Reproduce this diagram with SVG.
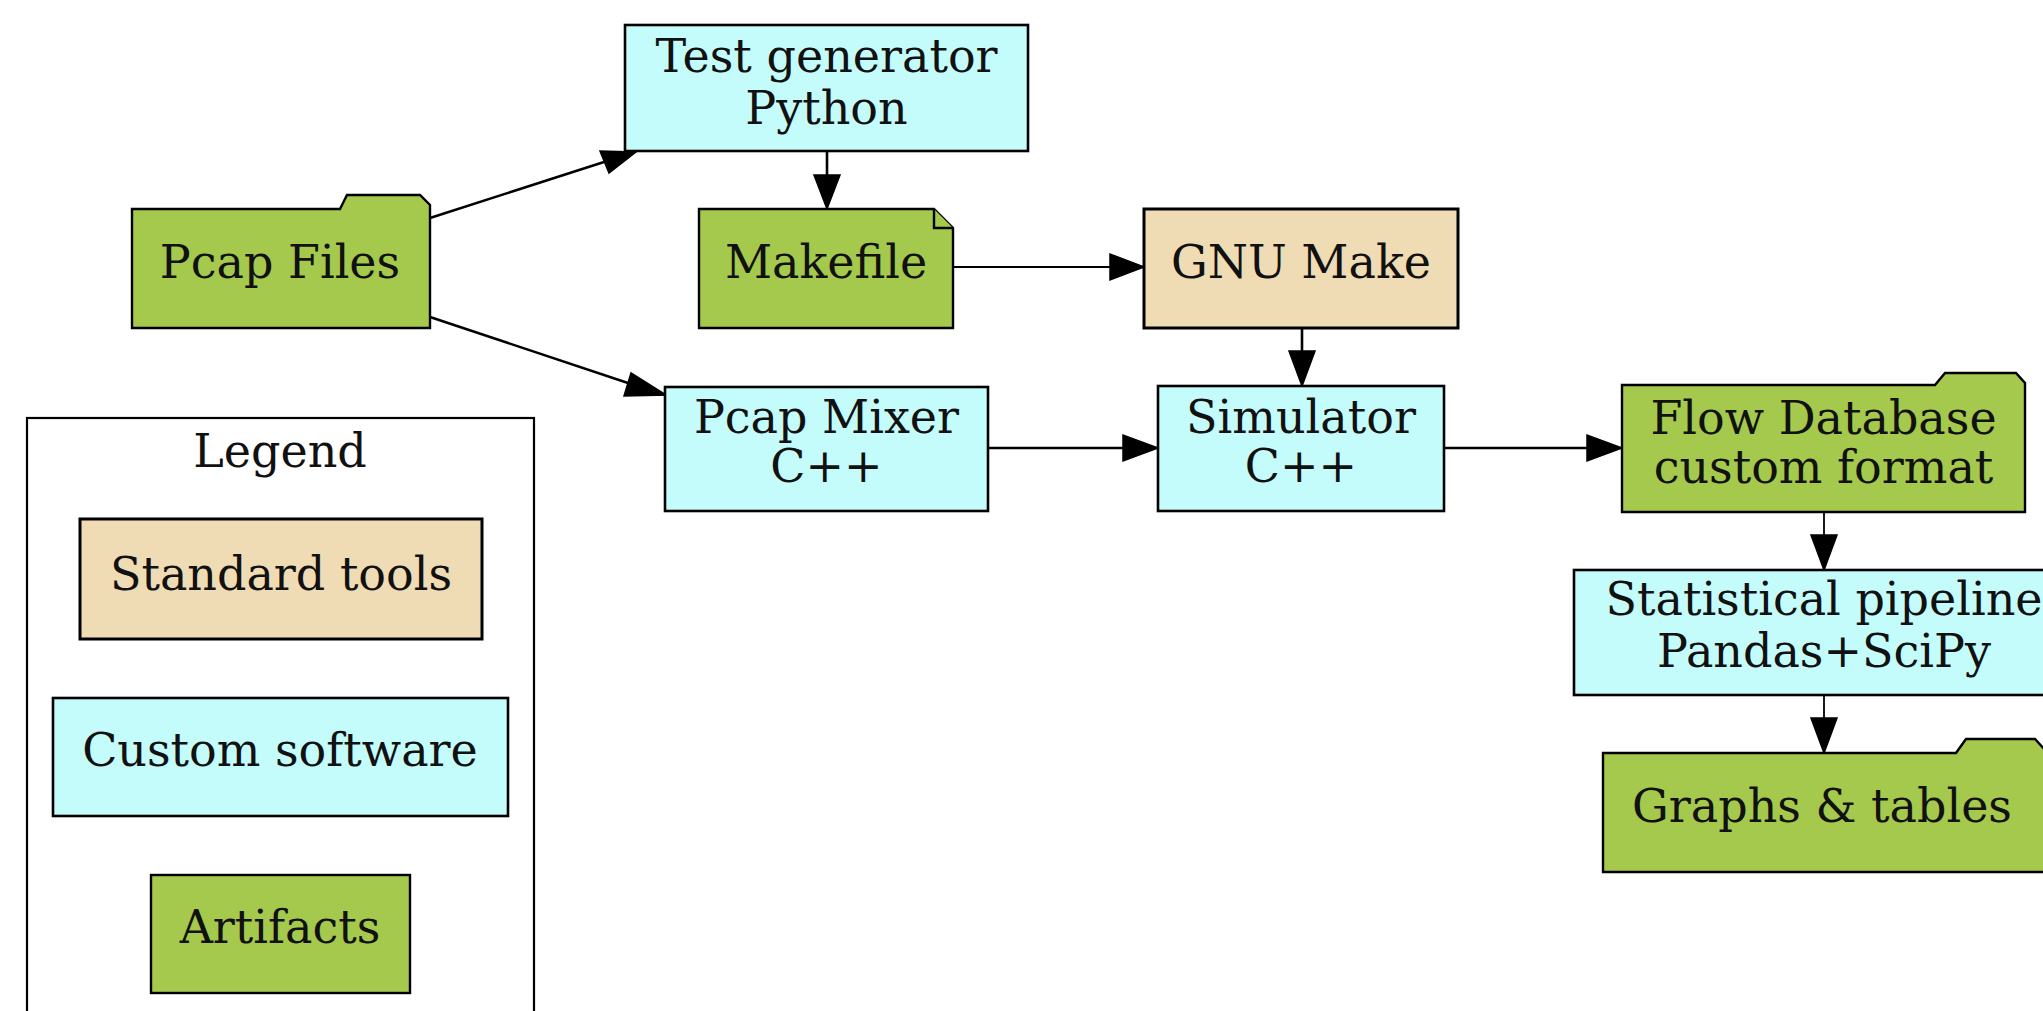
<svg xmlns="http://www.w3.org/2000/svg" width="2043" height="1011" viewBox="0 0 2043 1011">
<defs>
<style>
.t{font-family:"DejaVu Serif","Liberation Serif",serif;font-size:46px;fill:#111;text-anchor:middle}
.cust{fill:#c4fcfc;stroke:#000;stroke-width:2.6}
.std{fill:#f0dcb4;stroke:#000;stroke-width:3}
.art{fill:#a4c94c;stroke:#000;stroke-width:2.4}
.e{stroke:#000;stroke-width:2.6;fill:none}
.e1{stroke:#000;stroke-width:1.8;fill:none}
.ah{fill:#000;stroke:#000;stroke-width:1.5}
</style>
</defs>
<rect width="2043" height="1011" fill="#fff"/>

<g id="connectors">
<line class="e" x1="430" y1="218" x2="604" y2="162"/>
<polygon class="ah" points="636,152 600,151 609,173"/>
<line class="e" x1="430" y1="317" x2="634" y2="385"/>
<polygon class="ah" points="666,395 631,373 624,396"/>
<line class="e" x1="827" y1="151" x2="827" y2="176"/>
<polygon class="ah" points="827,209 814,175 840,175"/>
<line class="e1" x1="953" y1="267" x2="1111" y2="267"/>
<polygon class="ah" points="1144,267 1110,254 1110,280"/>
<line class="e" x1="1302" y1="328" x2="1302" y2="352"/>
<polygon class="ah" points="1302,386 1289,351 1315,351"/>
<line class="e" x1="988" y1="448" x2="1124" y2="448"/>
<polygon class="ah" points="1158,448 1123,435 1123,461"/>
<line class="e" x1="1444" y1="448" x2="1588" y2="448"/>
<polygon class="ah" points="1622,448 1587,435 1587,461"/>
<line class="e1" x1="1824" y1="512" x2="1824" y2="536"/>
<polygon class="ah" points="1824,570 1811,535 1837,535"/>
<line class="e1" x1="1824" y1="695" x2="1824" y2="719"/>
<polygon class="ah" points="1824,753 1811,718 1837,718"/>
</g>

<g id="test-generator">
<rect class="cust" x="625" y="25" width="403" height="126"/>
<text class="t"><tspan x="826.5" y="72">Test generator</tspan><tspan x="826.5" y="124">Python</tspan></text>
</g>

<g id="pcap-files">
<path class="art" d="M132,209 L340,209 L347,195 L420,195 L430,205 L430,328 L132,328 Z"/>
<text class="t" x="280" y="278">Pcap Files</text>
</g>

<g id="makefile">
<path class="art" d="M699,209 L934,209 L953,228 L953,328 L699,328 Z"/>
<path class="art" d="M934,209 L934,228 L953,228" fill="none"/>
<text class="t" x="826" y="278">Makefile</text>
</g>

<g id="gnu-make">
<rect class="std" x="1144" y="209" width="314" height="119"/>
<text class="t" x="1301" y="278">GNU Make</text>
</g>

<g id="pcap-mixer">
<rect class="cust" x="665" y="387" width="323" height="124"/>
<text class="t"><tspan x="826.5" y="433">Pcap Mixer</tspan><tspan x="826.5" y="482">C++</tspan></text>
</g>

<g id="simulator">
<rect class="cust" x="1158" y="386" width="286" height="125"/>
<text class="t"><tspan x="1301" y="433">Simulator</tspan><tspan x="1301" y="482">C++</tspan></text>
</g>

<g id="flow-database">
<path class="art" d="M1622,385 L1935,385 L1945,373 L2016,373 L2025,383 L2025,512 L1622,512 Z"/>
<text class="t"><tspan x="1823.5" y="434">Flow Database</tspan><tspan x="1823.5" y="483">custom format</tspan></text>
</g>

<g id="statistical-pipeline">
<rect class="cust" x="1574" y="570" width="500" height="125"/>
<text class="t"><tspan x="1824" y="615">Statistical pipeline</tspan><tspan x="1824" y="667">Pandas+SciPy</tspan></text>
</g>

<g id="graphs-tables">
<path class="art" d="M1603,753 L1956,753 L1966,739 L2035,739 L2045,750 L2045,872 L1603,872 Z"/>
<text class="t" x="1822" y="822">Graphs &amp; tables</text>
</g>

<g id="legend">
<rect x="27" y="418" width="507" height="700" fill="#fff" stroke="#000" stroke-width="2.2"/>
<text class="t" x="280" y="467">Legend</text>
<g id="legend-standard">
<rect class="std" x="80" y="519" width="402" height="120"/>
<text class="t" x="281" y="590">Standard tools</text>
</g>
<g id="legend-custom">
<rect class="cust" x="53" y="698" width="455" height="118"/>
<text class="t" x="280" y="766">Custom software</text>
</g>
<g id="legend-artifacts">
<rect class="art" x="151" y="875" width="259" height="118"/>
<text class="t" x="280" y="943">Artifacts</text>
</g>
</g>
</svg>
